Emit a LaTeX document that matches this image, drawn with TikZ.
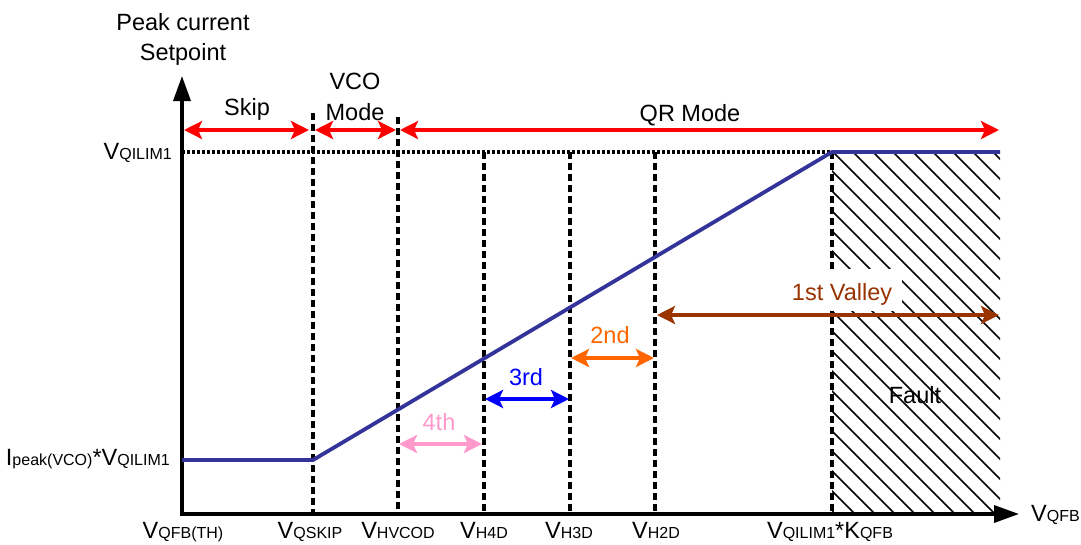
\documentclass[tikz,border=0pt]{standalone}
\usepackage{fontspec}
\setmainfont{Liberation Sans}
\usetikzlibrary{arrows.meta}
\newcommand{\lsub}[1]{{\fontsize{16}{17}\selectfont #1}}
\definecolor{curveblue}{RGB}{51,51,153}
\definecolor{pinkc}{RGB}{255,153,204}
\definecolor{bluec}{RGB}{0,0,255}
\definecolor{orangec}{RGB}{255,102,0}
\definecolor{brownc}{RGB}{153,51,0}
\begin{document}
\begin{tikzpicture}[x=1pt,y=-1pt, font=\fontsize{23.5}{25}\selectfont,
  lbl/.style={inner sep=0pt, anchor=base},
  axisline/.style={line width=3.5pt, -{Triangle[length=25pt,width=17pt]}},
  guide/.style={line width=3.2pt, dash pattern=on 7pt off 4pt},
  dotline/.style={line width=3.2pt, dash pattern=on 3pt off 2pt},
  curve/.style={line width=3.8pt, draw=curveblue},
  span/.style={line width=3.8pt, {Stealth[length=18pt,width=18pt,inset=4pt]}-{Stealth[length=18pt,width=18pt,inset=4pt]}},
  hatchline/.style={line width=1.6pt}]
\useasboundingbox (0,0) rectangle (1081,544);

% coordinates
\coordinate (O) at (182,515.5);
\coordinate (ytop) at (182,76);
\coordinate (xend) at (1019,514);

% hatch
\begin{scope}
  \clip (832,152) rectangle (1000,514);
  \foreach \k in {-21,...,9} {
    \draw[hatchline] ({833+20*\k},152) -- ++(400,400);
  }
\end{scope}

% guides
\coordinate (g1t) at (313,113); \coordinate (g1b) at (313,514);
\coordinate (g2t) at (398,117); \coordinate (g2b) at (398,514);
\coordinate (g3t) at (484,152); \coordinate (g3b) at (484,514);
\coordinate (g4t) at (570,152); \coordinate (g4b) at (570,514);
\coordinate (g5t) at (655,152); \coordinate (g5b) at (655,514);
\coordinate (g6t) at (832,152); \coordinate (g6b) at (832,514);
\foreach \g in {1,...,6} { \draw[guide] (g\g t) -- (g\g b); }

% dotted level
\coordinate (lvl0) at (182,152);
\draw[dotline] (lvl0) -- (g6t);

% 1st valley label with white box
\node[lbl, fill=white, inner xsep=10pt, inner ysep=7pt, text height=24pt, text depth=4pt, text=brownc] (v1) at (842,300) {1st Valley};
\node[lbl, text=black] (fault) at (915,403) {Fault};

% axes
\draw[axisline] (O) -- (ytop);
\draw[axisline] (180.5,514) -- (xend);

% curve
\coordinate (c0) at (182,460);
\coordinate (c1) at (313,460);
\coordinate (c2) at (832,152);
\coordinate (c3) at (1000,152);
\draw[curve, line join=round] (c0) -- (c1) -- (c2) -- (c3);

% red mode arrows
\coordinate (r0) at (184,130);
\coordinate (r1) at (309,130);
\coordinate (r2) at (315,130);
\coordinate (r3) at (396,130);
\coordinate (r4) at (400,130);
\coordinate (r5) at (999,130);
\draw[span, red] (r0) -- (r1);
\draw[span, red] (r2) -- (r3);
\draw[span, red] (r4) -- (r5);

% valley arrows
\coordinate (p0) at (399,444); \coordinate (p1) at (482,444);
\coordinate (b0) at (485,399); \coordinate (b1) at (569,399);
\coordinate (o0) at (571,358); \coordinate (o1) at (654,358);
\coordinate (w0) at (657,315); \coordinate (w1) at (999,315);
\draw[span, pinkc] (p0) -- (p1);
\draw[span, bluec] (b0) -- (b1);
\draw[span, orangec] (o0) -- (o1);
\draw[span, brownc] (w0) -- (w1);

% labels
\node[lbl] (t1) at (183,30) {Peak current};
\node[lbl] (t2) at (183,60) {Setpoint};
\node[lbl] (skip) at (247,115) {Skip};
\node[lbl] (vco1) at (355,89) {VCO};
\node[lbl] (vco2) at (355,120) {Mode};
\node[lbl] (qr) at (690,121) {QR Mode};
\node[lbl, text=pinkc] (l4) at (439,430) {4th};
\node[lbl, text=bluec] (l3) at (526,385) {3rd};
\node[lbl, text=orangec] (l2) at (610,343) {2nd};

\node[inner sep=0pt, anchor=base east] (yq) at (172,159) {V\lsub{QILIM1}};
\node[inner sep=0pt, anchor=base east] (yi) at (170,465) {I\lsub{peak(VCO)}*V\lsub{QILIM1}};

\node[lbl] (x0) at (183,538) {V\lsub{QFB(TH)}};
\node[lbl] (x1) at (310,538) {V\lsub{QSKIP}};
\node[lbl] (x2) at (398,538) {V\lsub{HVCOD}};
\node[lbl] (x3) at (484,538) {V\lsub{H4D}};
\node[lbl] (x4) at (569,538) {V\lsub{H3D}};
\node[lbl] (x5) at (656,538) {V\lsub{H2D}};
\node[lbl] (x6) at (830,538) {V\lsub{QILIM1}*K\lsub{QFB}};
\node[inner sep=0pt, anchor=base west] (xq) at (1031,521) {V\lsub{QFB}};
\end{tikzpicture}
\end{document}
